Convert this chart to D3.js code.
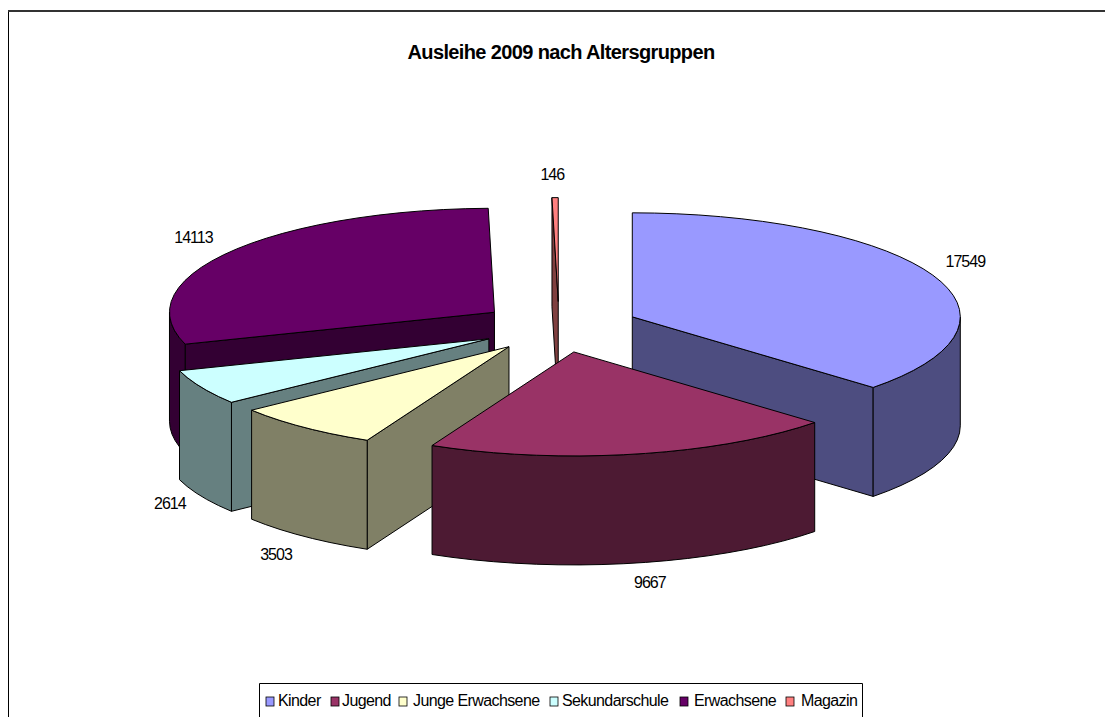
<!DOCTYPE html>
<html>
<head>
<meta charset="utf-8">
<script src="https://d3js.org/d3.v7.min.js"></script>
<style>
  html, body { margin: 0; padding: 0; background: #fff; overflow: hidden; }
  text { font-family: "Liberation Sans", Arial, sans-serif; fill: #000; }
</style>
</head>
<body>
<div id="chart"></div>
<script>
(function(){
  'use strict';

  var categories = ["Kinder", "Jugend", "Junge Erwachsene", "Sekundarschule", "Erwachsene", "Magazin"],
      values = [17549, 9667, 3503, 2614, 14113, 146],
      colors = ["#9999ff", "#993366", "#ffffcc", "#ccffff", "#660066", "#ff8080"];

  var width = 1105,
      height = 717,
      center = {x: 559, y: 327},
      rx = 328,       // pie radius on screen, horizontal
      rxLeft = 325,   // the left half comes out a bit narrower
      ry = 104,       // same, after the tilt
      depth = 109,
      explode = 80,
      arcStep = 4 * Math.PI / 180;

  // where each label sits, relative to the slice apex
  var labelOffset = [
    {x: 333, y: -50},
    {x: 76, y: 236},
    {x: -233, y: 213},
    {x: -319, y: 170},
    {x: -301, y: -69},
    {x: -6, y: -122}
  ];

  var svg = d3.select("#chart").append("svg")
      .attr("width", width)
      .attr("height", height)
      .style("display", "block");

  // chart frame, runs off the bottom and right of the picture
  svg.append("line")
    .attr("x1", 8.5).attr("x2", 8.5)
    .attr("y1", 10).attr("y2", height)
    .attr("stroke", "#000");
  svg.append("line")
    .attr("x1", 8).attr("x2", width)
    .attr("y1", 11).attr("y2", 11)
    .attr("stroke", "#333")
    .attr("stroke-width", 2);

  svg.append("text")
    .text("Ausleihe 2009 nach Altersgruppen")
    .attr("x", 561)
    .attr("y", 59)
    .attr("text-anchor", "middle")
    .attr("font-size", 20)
    .attr("font-weight", "bold")
    .attr("letter-spacing", -0.63);

  var pie = d3.pie().sort(null).value(function(d){ return d.value; }),
      slices = pie(categories.map(function(c, i){
        return {name: c, value: values[i], color: colors[i], label: labelOffset[i]};
      }));

  // angles run clockwise from twelve o'clock, as in d3.pie
  var x = d3.scaleLinear().domain([-1, 0, 1]).range([-rxLeft, 0, rx]),
      y = d3.scaleLinear().domain([-1, 1]).range([ry, -ry]);

  slices.forEach(function(s){
    var mid = (s.startAngle + s.endAngle) / 2;
    s.apex = [
      center.x + x(Math.sin(mid)) * explode / rx,
      center.y + y(Math.cos(mid)) * explode / rx
    ];
  });

  function rim(s, a, drop){
    return [s.apex[0] + x(Math.sin(a)), s.apex[1] + y(Math.cos(a)) + (drop || 0)];
  }

  function rimPoints(a0, a1, s, drop){
    var n = Math.max(1, Math.ceil((a1 - a0) / arcStep));
    return d3.range(n + 1).map(function(i){
      return rim(s, a0 + (a1 - a0) * i / n, drop);
    });
  }

  var line = d3.line();

  function poly(pts){ return line(pts) + "Z"; }

  // side of a slice between the apex and the rim at angle a
  function radialFace(s, a){
    var r = rim(s, a);
    return poly([s.apex, r, [r[0], r[1] + depth], [s.apex[0], s.apex[1] + depth]]);
  }

  // outer wall, only the part that faces the viewer
  function wallFace(s){
    var a0 = Math.max(s.startAngle, Math.PI / 2),
        a1 = Math.min(s.endAngle, Math.PI * 3 / 2);
    if (a1 <= a0) return null;
    return poly(rimPoints(a0, a1, s).concat(rimPoints(a0, a1, s, depth).reverse()));
  }

  function topFace(s){
    return poly([s.apex].concat(rimPoints(s.startAngle, s.endAngle, s)));
  }

  function shade(c){
    var r = d3.rgb(c);
    return d3.rgb(r.r / 2, r.g / 2, r.b / 2).formatHex();
  }

  // painter's order: back slices first, Jugend last
  var drawOrder = ["Erwachsene", "Magazin", "Kinder", "Sekundarschule", "Junge Erwachsene", "Jugend"];
  var ordered = drawOrder.map(function(n){
    return slices.filter(function(s){ return s.data.name === n; })[0];
  });

  var block = svg.selectAll(".slice")
      .data(ordered)
      .enter().append("g")
      .attr("class", "slice")
      .attr("stroke", "#000")
      .attr("stroke-width", 1)
      .attr("stroke-linejoin", "round");

  block.each(function(s){
    var g = d3.select(this),
        side = shade(s.data.color);

    // left cut face shows for angles past 180deg, right cut face before it
    if (s.startAngle > Math.PI) {
      g.append("path").attr("d", radialFace(s, s.startAngle)).attr("fill", side);
    }
    if (s.endAngle < Math.PI) {
      g.append("path").attr("d", radialFace(s, s.endAngle)).attr("fill", side);
    }
    var wall = wallFace(s);
    if (wall) g.append("path").attr("d", wall).attr("fill", side);
    g.append("path").attr("d", topFace(s)).attr("fill", s.data.color);
  });

  // value labels
  svg.selectAll(".value")
    .data(slices)
    .enter().append("text")
    .attr("class", "value")
    .text(function(s){ return s.data.value; })
    .attr("x", function(s){ return s.apex[0] + s.data.label.x; })
    .attr("y", function(s){ return s.apex[1] + s.data.label.y; })
    .attr("text-anchor", "middle")
    .attr("font-size", 16)
    .attr("letter-spacing", -1);

  // legend box, cut by the bottom edge like the frame
  var swatchX = [266, 331, 399, 550, 680, 786],
      legendTextX = [278, 342, 413, 562, 694, 801];

  svg.append("path")
    .attr("d", "M259.5," + height + "V683.5H862.5V" + height)
    .attr("fill", "#fff")
    .attr("stroke", "#000");

  var item = svg.selectAll(".item")
      .data(categories)
      .enter().append("g")
      .attr("class", "item");

  item.append("rect")
    .attr("x", function(d, i){ return swatchX[i]; })
    .attr("y", 697)
    .attr("width", 8)
    .attr("height", 9)
    .attr("fill", function(d, i){ return colors[i]; })
    .attr("stroke", "#000")
    .attr("stroke-width", 0.8);

  item.append("text")
    .text(function(d){ return d; })
    .attr("x", function(d, i){ return legendTextX[i]; })
    .attr("y", 706)
    .attr("font-size", 16)
    .attr("letter-spacing", -0.6);
})();
</script>
</body>
</html>
